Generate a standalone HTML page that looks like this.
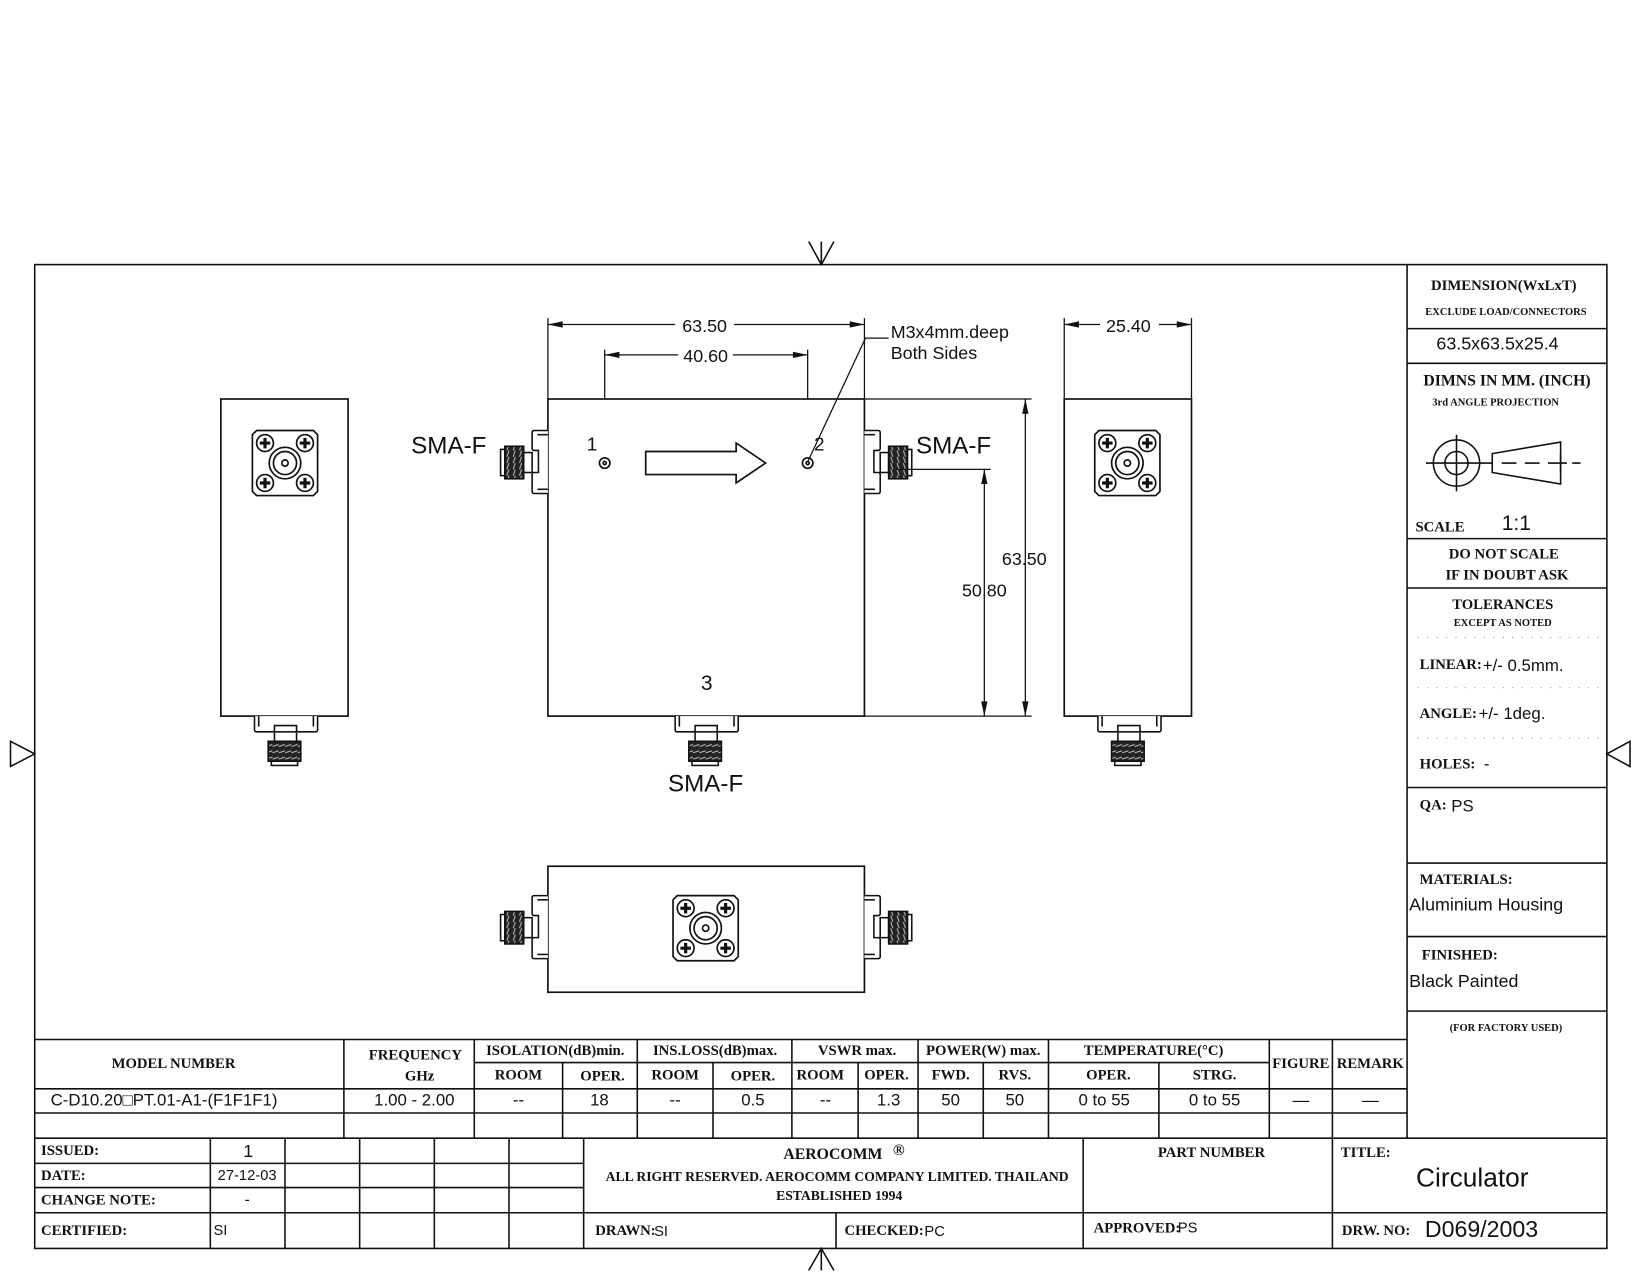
<!DOCTYPE html>
<html><head><meta charset="utf-8"><style>
html,body{margin:0;padding:0;background:#fff;}
svg{display:block;}
.s{font-family:"Liberation Serif",serif;font-weight:bold;fill:#111;}
.d{font-family:"Liberation Sans",sans-serif;fill:#111;}
</style></head><body>
<svg width="1650" height="1275" viewBox="0 0 1569 1214.3" preserveAspectRatio="none" xmlns="http://www.w3.org/2000/svg">
<defs>
<pattern id="th" width="6" height="6" patternUnits="userSpaceOnUse">
<rect width="6" height="6" fill="#222"/><line x1="0" y1="5" x2="6" y2="3" stroke="#bbb" stroke-width="1"/>
</pattern>
<pattern id="tv" width="6" height="6" patternUnits="userSpaceOnUse">
<rect width="6" height="6" fill="#222"/><line x1="5" y1="0" x2="3" y2="6" stroke="#bbb" stroke-width="1"/>
</pattern>
<g id="face" fill="none" stroke="#111" stroke-width="1.6">
<path d="M-27,-31 H27 L31,-27 V27 L27,31 H-27 L-31,27 V-27 Z"/>
<circle cx="-19" cy="-19" r="8"/><circle cx="19" cy="-19" r="8"/><circle cx="-19" cy="19" r="8"/><circle cx="19" cy="19" r="8"/>
<path d="M-19,-24v10M-24,-19h10M19,-24v10M14,-19h10M-19,14v10M-24,19h10M19,14v10M14,19h10" stroke-width="3"/>
<circle r="15"/><circle r="11"/><circle r="3"/>
</g>
<g id="cb" stroke="#111" stroke-width="1.5">
<path d="M-29,0 V13 Q-29,15 -27,15 H-12 Q-10,15 -10,13 V9 H11 V13 Q11,15 13,15 H29 Q31,15 31,13 V0" fill="#fff"/>
<line x1="-25" y1="0" x2="-25" y2="10"/><line x1="27" y1="0" x2="27" y2="10"/>
<rect x="-10" y="15" width="21" height="9" fill="#fff"/>
<rect x="-16" y="24" width="31" height="19" fill="url(#th)"/>
<rect x="-13" y="43" width="25" height="4" fill="#fff"/>
</g>
<g id="cl" stroke="#111" stroke-width="1.5">
<path d="M0,-31 H-13 Q-15,-31 -15,-29 V-14 Q-15,-12 -13,-12 H-9 V9 H-13 Q-15,9 -15,11 V27 Q-15,29 -13,29 H0" fill="#fff"/>
<line x1="0" y1="-27" x2="-10" y2="-27"/><line x1="0" y1="25" x2="-10" y2="25"/>
<rect x="-23" y="-10" width="8" height="19" fill="#fff"/>
<rect x="-41" y="-16" width="18" height="31" fill="url(#tv)"/>
<rect x="-45" y="-13" width="4" height="25" fill="#fff"/>
</g>
</defs>
<rect width="1569" height="1214.3" fill="#fff"/>
<g fill="none" stroke="#111" stroke-width="1.5">
<rect x="33" y="252" width="1495" height="937"/>
<path d="M769,230 L781,252 L793,230 M781,230 V252"/>
<path d="M769,1210 L781,1189 L793,1210 M781,1189 V1210"/>
<path d="M10,706 L33,718 L10,730 Z"/>
<path d="M1550,706 L1528,718 L1550,730 Z"/>
<path d="M1338,252 V1084 M1338,313 H1528 M1338,346 H1528 M1338,513 H1528 M1338,560 H1528 M1338,750 H1528 M1338,822 H1528 M1338,892 H1528 M1338,963 H1528"/>
<path d="M33,990 H1338 M33,1037 H1338 M33,1060 H1338 M33,1084 H1528 M451,1012 H1207"/>
<path d="M327,990 V1084 M451,990 V1084 M606,990 V1084 M753,990 V1084 M873,990 V1084 M997,990 V1084 M1207,990 V1084 M1267,990 V1084"/>
<path d="M535,1012 V1084 M678,1012 V1084 M816,1012 V1084 M935,1012 V1084 M1102,1012 V1084"/>
<path d="M33,1108 H555 M33,1131 H555 M33,1155 H1528 M200,1084 V1189 M271,1084 V1189 M342,1084 V1189 M413,1084 V1189 M484,1084 V1189 M555,1084 V1189 M795,1155 V1189 M1030,1084 V1189 M1267,1084 V1189"/>
<circle cx="1385" cy="441" r="22"/><circle cx="1385" cy="441" r="11"/>
<path d="M1356,441 H1407 M1385,414 V468 M1379,441 h12 M1385,435 v12"/>
<path d="M1419,432 L1484,421 L1484,461 L1419,450 Z"/>
<path d="M1407,441 H1419 M1428,441 h14 M1450,441 h14 M1472,441 h18 M1495,441 h8 M1484,433 v16"/>
</g>
<g fill="none" stroke="#888" stroke-width="1" stroke-dasharray="1,8">
<path d="M1348,607 H1520 M1348,655 H1520 M1348,703 H1520"/>
</g>
<g fill="none" stroke="#111" stroke-width="1.6">
<rect x="210" y="380" width="121" height="302"/>
<rect x="521" y="380" width="301" height="302"/>
<rect x="1012" y="380" width="121" height="302"/>
<rect x="521" y="825" width="301" height="120"/>
<path d="M614,430 H700 V422 L728,441 L700,460 V452 H614 Z"/>
<circle cx="575" cy="441" r="5"/><circle cx="575" cy="441" r="1.5"/>
<circle cx="768" cy="441" r="5"/><circle cx="768" cy="441" r="1.5"/>
</g>
<use href="#face" x="271" y="441"/>
<use href="#face" x="1072" y="441"/>
<use href="#face" x="671" y="884"/>
<use href="#cb" x="271" y="682"/>
<use href="#cb" x="671" y="682"/>
<use href="#cb" x="1073" y="682"/>
<use href="#cl" x="521" y="441"/>
<use href="#cl" transform="translate(822,441) scale(-1,1)"/>
<use href="#cl" x="521" y="884"/>
<use href="#cl" transform="translate(822,884) scale(-1,1)"/>
<g fill="none" stroke="#111" stroke-width="1.2">
<path d="M521,380 V303 M822,380 V303 M521,309 H822 M575,380 V333 M768,380 V333 M575,338 H768"/>
<path d="M1012,380 V303 M1133,380 V303 M1012,309 H1133"/>
<path d="M822,380 H981 M822,682 H981 M975,380 V682 M852,447 H942 M936,447 V682"/>
<path d="M768,440 L823,322 H845"/>
</g>
<g fill="#111">
<path d="M521,309 l14,-3 v6 Z M822,309 l-14,-3 v6 Z M575,338 l14,-3 v6 Z M768,338 l-14,-3 v6 Z"/>
<path d="M1012,309 l14,-3 v6 Z M1133,309 l-14,-3 v6 Z"/>
<path d="M975,380 l-3,14 h6 Z M975,682 l-3,-14 h6 Z M936,447 l-3,14 h6 Z M936,682 l-3,-14 h6 Z"/>
</g>
<g class="d" font-size="17">
<rect x="642" y="300" width="56" height="18" fill="#fff"/>
<text x="670" y="316" text-anchor="middle">63.50</text>
<rect x="645" y="329" width="52" height="18" fill="#fff"/>
<text x="671" y="345" text-anchor="middle">40.60</text>
<rect x="1046" y="300" width="56" height="18" fill="#fff"/>
<text x="1073" y="316" text-anchor="middle">25.40</text>
<text x="974" y="538" text-anchor="middle">63.50</text>
<text x="936" y="568" text-anchor="middle">50.80</text>
<text x="847" y="322">M3x4mm.deep</text>
<text x="847" y="342">Both Sides</text>
<text x="558" y="429" font-size="18">1</text>
<text x="774" y="429" font-size="18">2</text>
<text x="672" y="657" font-size="20" text-anchor="middle">3</text>
<text x="391" y="432" font-size="23">SMA-F</text>
<text x="871" y="432" font-size="23">SMA-F</text>
<text x="671" y="754" font-size="23" text-anchor="middle">SMA-F</text>
</g>
<g class="s">
<text x="1430" y="276" font-size="14" text-anchor="middle">DIMENSION(WxLxT)</text>
<text x="1432" y="300" font-size="10" text-anchor="middle">EXCLUDE LOAD/CONNECTORS</text>
<text x="1433" y="367" font-size="15" text-anchor="middle">DIMNS IN MM. (INCH)</text>
<text x="1362" y="386" font-size="10">3rd ANGLE PROJECTION</text>
<text x="1346" y="506" font-size="14">SCALE</text>
<text x="1430" y="532" font-size="14" text-anchor="middle">DO NOT SCALE</text>
<text x="1433" y="552" font-size="14" text-anchor="middle">IF IN DOUBT ASK</text>
<text x="1429" y="580" font-size="14" text-anchor="middle">TOLERANCES</text>
<text x="1429" y="596" font-size="10" text-anchor="middle">EXCEPT AS NOTED</text>
<text x="1350" y="637" font-size="14">LINEAR:</text>
<text x="1350" y="684" font-size="14">ANGLE:</text>
<text x="1350" y="732" font-size="14">HOLES:</text>
<text x="1350" y="771" font-size="14">QA:</text>
<text x="1350" y="842" font-size="14">MATERIALS:</text>
<text x="1352" y="914" font-size="14">FINISHED:</text>
<text x="1432" y="982" font-size="10" text-anchor="middle">(FOR FACTORY USED)</text>
</g>
<g class="d">
<text x="1424" y="333" font-size="17" text-anchor="middle">63.5x63.5x25.4</text>
<text x="1428" y="505" font-size="20">1:1</text>
<text x="1410" y="639" font-size="16">+/-  0.5mm.</text>
<text x="1406" y="685" font-size="16">+/-  1deg.</text>
<text x="1411" y="733" font-size="16">-</text>
<text x="1380" y="773" font-size="16">PS</text>
<text x="1340" y="867" font-size="17">Aluminium Housing</text>
<text x="1340" y="940" font-size="17">Black Painted</text>
</g>
<g class="s" font-size="14" text-anchor="middle">
<text x="165" y="1017">MODEL NUMBER</text>
<text x="395" y="1009">FREQUENCY</text>
<text x="399" y="1029">GHz</text>
<text x="528" y="1005">ISOLATION(dB)min.</text>
<text x="680" y="1005">INS.LOSS(dB)max.</text>
<text x="815" y="1005">VSWR  max.</text>
<text x="935" y="1005">POWER(W)  max.</text>
<text x="1097" y="1005">TEMPERATURE(°C)</text>
<text x="1237" y="1017">FIGURE</text>
<text x="1303" y="1017">REMARK</text>
<text x="493" y="1028">ROOM</text><text x="573" y="1029">OPER.</text>
<text x="642" y="1028">ROOM</text><text x="716" y="1029">OPER.</text>
<text x="780" y="1028">ROOM</text><text x="843" y="1028">OPER.</text>
<text x="904" y="1028">FWD.</text><text x="965" y="1028">RVS.</text>
<text x="1054" y="1028">OPER.</text><text x="1155" y="1028">STRG.</text>
</g>
<g class="d" font-size="16" text-anchor="middle">
<text x="156" y="1053">C-D10.20□PT.01-A1-(F1F1F1)</text>
<text x="394" y="1053">1.00  -  2.00</text>
<text x="493" y="1053">--</text><text x="570" y="1053">18</text>
<text x="642" y="1053">--</text><text x="716" y="1053">0.5</text>
<text x="785" y="1053">--</text><text x="845" y="1053">1.3</text>
<text x="904" y="1053">50</text><text x="965" y="1053">50</text>
<text x="1050" y="1053">0 to 55</text><text x="1155" y="1053">0 to 55</text>
<text x="1237" y="1053">—</text><text x="1303" y="1053">—</text>
</g>
<g class="s" font-size="14">
<text x="39" y="1100">ISSUED:</text>
<text x="39" y="1124">DATE:</text>
<text x="39" y="1147">CHANGE NOTE:</text>
<text x="39" y="1176">CERTIFIED:</text>
<text x="792" y="1104" text-anchor="middle" font-size="15">AEROCOMM</text>
<text x="849" y="1100" font-size="15">®</text>
<text x="796" y="1125" text-anchor="middle" font-size="13">ALL RIGHT RESERVED. AEROCOMM COMPANY LIMITED. THAILAND</text>
<text x="798" y="1143" text-anchor="middle" font-size="13">ESTABLISHED 1994</text>
<text x="1152" y="1102" text-anchor="middle">PART NUMBER</text>
<text x="1275" y="1102">TITLE:</text>
<text x="566" y="1176">DRAWN:</text>
<text x="803" y="1176">CHECKED:</text>
<text x="1040" y="1174">APPROVED:</text>
<text x="1276" y="1176">DRW. NO:</text>
</g>
<g class="d">
<text x="236" y="1102" font-size="17" text-anchor="middle">1</text>
<text x="235" y="1124" font-size="14" text-anchor="middle">27-12-03</text>
<text x="235" y="1147" font-size="15" text-anchor="middle">-</text>
<text x="203" y="1176" font-size="14">SI</text>
<text x="622" y="1177" font-size="14">SI</text>
<text x="879" y="1177" font-size="14">PC</text>
<text x="1120" y="1174" font-size="14">PS</text>
<text x="1400" y="1130" font-size="25" text-anchor="middle">Circulator</text>
<text x="1355" y="1178" font-size="22">D069/2003</text>
</g>
</svg>
</body></html>
